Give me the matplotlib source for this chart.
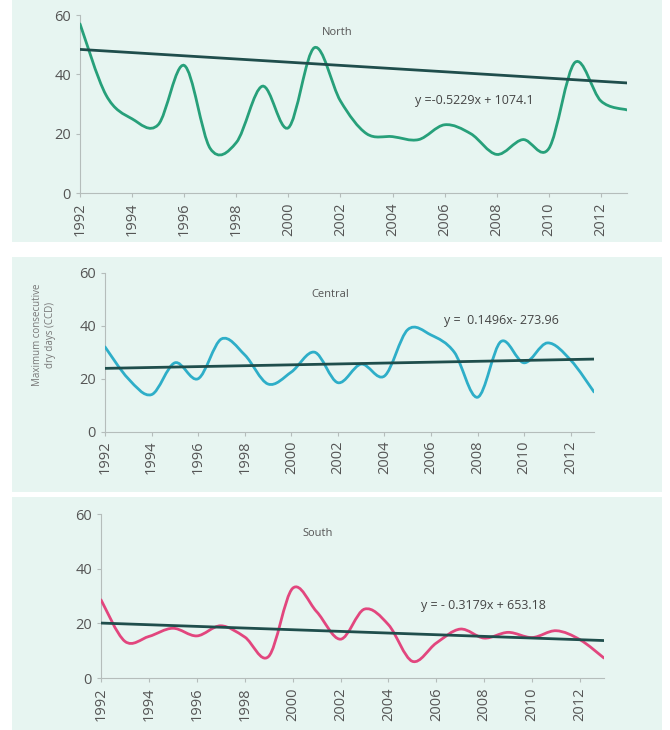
import numpy as np
import matplotlib.pyplot as plt
from matplotlib.path import Path
from matplotlib.patches import PathPatch, Rectangle

plt.rcParams['font.family'] = ['Open Sans', 'DejaVu Sans']

years = list(range(1992, 2014))
year_ticks = list(range(1992, 2013, 2))

north = [57, 33, 25, 23, 43, 15, 17, 36, 22, 49, 31, 20, 19, 18, 23, 20, 13, 18, 15, 44, 31, 28]
central = [32, 20, 14, 26, 20, 35, 29, 18, 22.5, 30, 18.5, 25.5, 21, 38.5, 36.5, 30, 13, 34, 26, 33.5, 27, 15]
south = [28.6, 13.4, 15.2, 18.2, 15.4, 19.1, 15, 7.9, 32.8, 24.3, 14.2, 25.2, 19.5, 6.1, 12.8, 17.9, 14.6, 16.7, 14.8, 17.3, 14, 7.3]

# trend line values at 1992 and 2013 as drawn
north_trend = [48.4, 37.1]
central_trend = [23.9, 27.4]
south_trend = [20.1, 13.7]

titles = ['North', 'Central', 'South']
equations = ['y =-0.5229x + 1074.1', 'y =  0.1496x- 273.96', 'y = - 0.3179x + 653.18']
ylabel = 'Maximum consecutive\ndry days (CCD)'

bg = '#e7f5f1'
grey = '#555555'
trend_col = '#1f4e4c'


def smooth_path(x, y):
    # Excel style smoothed line: cubic bezier through every point
    pts = np.column_stack([x, y]).astype(float)
    ext = np.vstack([pts[0], pts, pts[-1]])
    verts = [pts[0]]
    codes = [Path.MOVETO]
    for i in range(len(pts) - 1):
        p0, p1, p2, p3 = ext[i], ext[i + 1], ext[i + 2], ext[i + 3]
        c1 = p1 + (p2 - p0) / 6.0
        c2 = p2 - (p3 - p1) / 6.0
        verts += [c1, c2, p2]
        codes += [Path.CURVE4] * 3
    return Path(verts, codes)


fig = plt.figure(figsize=(6.7, 7.3), dpi=100)

# mint panel backgrounds (pixels from top)
for top, bot in [(0, 242), (257, 492), (497, 730)]:
    fig.patches.append(Rectangle((12 / 670, 1 - bot / 730), 650 / 670, (bot - top) / 730,
                                 transform=fig.transFigure, facecolor=bg, edgecolor='none', zorder=-5))

boxes = [
    [80 / 670, 1 - 193 / 730, 547 / 670, 178 / 730],
    [105 / 670, 1 - 431.7 / 730, 489 / 670, 159 / 730],
    [101 / 670, 1 - 678 / 730, 503 / 670, 164 / 730],
]
series = [north, central, south]
trends = [north_trend, central_trend, south_trend]
colors = ['#27a07a', '#2eaec8', '#e2467e']
title_xy = [(0.47, 0.9), (0.46, 0.86), (0.43, 0.88)]
eq_xy = [(0.72, 0.52), (0.81, 0.7), (0.76, 0.44)]

for k in range(3):
    ax = fig.add_axes(boxes[k])
    ax.set_facecolor('none')
    ax.add_patch(PathPatch(smooth_path(years, series[k]), facecolor='none',
                           edgecolor=colors[k], lw=2.0, zorder=3, capstyle='round'))
    ax.plot([years[0], years[-1]], trends[k], color=trend_col, lw=2.0, zorder=4)
    ax.set_xlim(1992, 2013)
    ax.set_ylim(0, 60)
    ax.set_yticks([0, 20, 40, 60])
    ax.set_xticks(year_ticks)
    ax.set_xticklabels([str(y) for y in year_ticks], rotation=90)
    for s in ['top', 'right']:
        ax.spines[s].set_visible(False)
    for s in ['left', 'bottom']:
        ax.spines[s].set_color('#b5bdbb')
        ax.spines[s].set_linewidth(0.8)
    ax.tick_params(colors='#b5bdbb', labelcolor=grey, length=3, width=0.8, labelsize=10.5)
    ax.text(title_xy[k][0], title_xy[k][1], titles[k], transform=ax.transAxes,
            ha='center', va='center', fontsize=8, color=grey)
    ax.text(eq_xy[k][0], eq_xy[k][1], equations[k], transform=ax.transAxes,
            ha='center', va='center', fontsize=9, color='#444444')
    if k == 1:
        fig.text(44 / 670, 1 - 335 / 730, ylabel, rotation=90, ha='center', va='center',
                 multialignment='center', fontsize=7, color='#777777')

fig.savefig('out.png', dpi=100)
